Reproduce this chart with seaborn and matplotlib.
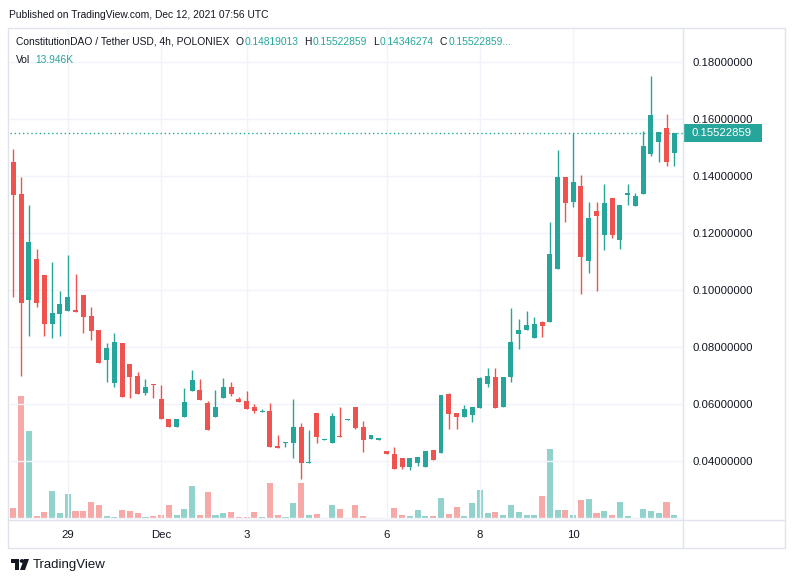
import numpy as np
import pandas as pd
import matplotlib
matplotlib.use("Agg")
import matplotlib.pyplot as plt
from matplotlib.patches import Rectangle
from matplotlib.lines import Line2D
import seaborn as sns

# %% Daten (4h Kerzen, ConstitutionDAO / USDT)
opens = [0.1449, 0.1337, 0.0965, 0.1109, 0.1053, 0.0882, 0.0917, 0.0927, 0.0930, 0.0982,
         0.0909, 0.0859, 0.0755, 0.0675, 0.0814, 0.0740, 0.0698, 0.0640, 0.0671, 0.0618,
         0.0546, 0.0518, 0.0555, 0.0647, 0.0649, 0.0604, 0.0555, 0.0622, 0.0661, 0.0618,
         0.0612, 0.0590, 0.0573, 0.0575, 0.0450, 0.0464, 0.0464, 0.0519, 0.0394, 0.0568,
         0.0474, 0.0464, 0.0488, 0.0544, 0.0588, 0.0519, 0.0476, 0.0475, 0.0435, 0.0425,
         0.0411, 0.0380, 0.0394, 0.0380, 0.0439, 0.0429, 0.0635, 0.0568, 0.0555, 0.0562,
         0.0586, 0.0671, 0.0696, 0.0591, 0.0696, 0.0846, 0.0860, 0.0833, 0.0888, 0.0889,
         0.1075, 0.1397, 0.1310, 0.1365, 0.1103, 0.1277, 0.1194, 0.1323, 0.1177, 0.1334,
         0.1296, 0.1338, 0.1477, 0.1520, 0.1568, 0.14819013]
highs = [0.1495, 0.1397, 0.1298, 0.1144, 0.1053, 0.1098, 0.0996, 0.1123, 0.1056, 0.0982,
         0.0940, 0.0859, 0.0814, 0.0849, 0.0814, 0.0740, 0.0711, 0.0688, 0.0671, 0.0667,
         0.0546, 0.0546, 0.0656, 0.0719, 0.0688, 0.0611, 0.0649, 0.0691, 0.0676, 0.0626,
         0.0646, 0.0600, 0.0582, 0.0602, 0.0491, 0.0468, 0.0618, 0.0534, 0.0509, 0.0568,
         0.0477, 0.0570, 0.0590, 0.0547, 0.0588, 0.0539, 0.0491, 0.0478, 0.0435, 0.0449,
         0.0411, 0.0411, 0.0414, 0.0435, 0.0439, 0.0632, 0.0639, 0.0568, 0.0596, 0.0590,
         0.0696, 0.0726, 0.0726, 0.0696, 0.0937, 0.0898, 0.0926, 0.0905, 0.0891, 0.1239,
         0.1491, 0.1397, 0.1550, 0.1404, 0.1309, 0.1309, 0.1372, 0.1323, 0.1298, 0.1372,
         0.1340, 0.1558, 0.1751, 0.1554, 0.1618, 0.15522859]
lows = [0.0976, 0.0699, 0.0840, 0.0941, 0.0840, 0.0833, 0.0840, 0.0927, 0.0924, 0.0850,
        0.0826, 0.0745, 0.0678, 0.0661, 0.0626, 0.0620, 0.0634, 0.0632, 0.0620, 0.0546,
        0.0518, 0.0518, 0.0555, 0.0644, 0.0615, 0.0510, 0.0555, 0.0622, 0.0628, 0.0608,
        0.0581, 0.0567, 0.0573, 0.0450, 0.0447, 0.0450, 0.0412, 0.0338, 0.0394, 0.0462,
        0.0474, 0.0464, 0.0484, 0.0544, 0.0512, 0.0433, 0.0476, 0.0475, 0.0425, 0.0372,
        0.0372, 0.0368, 0.0384, 0.0380, 0.0405, 0.0429, 0.0513, 0.0513, 0.0555, 0.0538,
        0.0586, 0.0661, 0.0587, 0.0591, 0.0678, 0.0794, 0.0860, 0.0833, 0.0836, 0.0889,
        0.1075, 0.1240, 0.1292, 0.0985, 0.1061, 0.0996, 0.1140, 0.1184, 0.1145, 0.1298,
        0.1296, 0.1338, 0.1470, 0.1450, 0.1436, 0.14346274]
closes = [0.1334, 0.0955, 0.1168, 0.0955, 0.0882, 0.0919, 0.0951, 0.0975, 0.0924, 0.0906,
          0.0857, 0.0745, 0.0795, 0.0818, 0.0626, 0.0696, 0.0634, 0.0660, 0.0667, 0.0546,
          0.0518, 0.0546, 0.0607, 0.0684, 0.0615, 0.0510, 0.0590, 0.0660, 0.0635, 0.0608,
          0.0581, 0.0577, 0.0575, 0.0450, 0.0447, 0.0468, 0.0519, 0.0394, 0.0397, 0.0485,
          0.0477, 0.0559, 0.0484, 0.0547, 0.0515, 0.0475, 0.0491, 0.0478, 0.0425, 0.0372,
          0.0380, 0.0411, 0.0414, 0.0435, 0.0405, 0.0632, 0.0566, 0.0555, 0.0582, 0.0590,
          0.0691, 0.0698, 0.0587, 0.0696, 0.0818, 0.0860, 0.0877, 0.0881, 0.0875, 0.1126,
          0.1397, 0.1306, 0.1379, 0.1115, 0.1254, 0.1261, 0.1305, 0.1193, 0.1298, 0.1340,
          0.1330, 0.1505, 0.1614, 0.1554, 0.1450, 0.15522859]
# Volumen in Tausend
volumes = [45, 519, 371, 11, 28, 117, 24, 104, 33, 33,
           71, 58, 11, 7, 37, 33, 24, 7, 11, 16,
           58, 16, 41, 138, 16, 113, 16, 24, 28, 7,
           7, 28, 7, 151, 16, 7, 66, 151, 16, 20,
           3, 58, 41, 3, 58, 11, 3, 3, 5, 44,
           14, 10, 35, 10, 10, 86, 18, 48, 10, 65,
           120, 22, 27, 14, 56, 27, 14, 14, 94, 293,
           35, 35, 14, 77, 82, 22, 31, 14, 69, 10,
           5, 39, 31, 22, 69, 13.946]

tick_pos = [7, 19, 30, 48, 60, 72]
tick_labels = ["29", "Dec", "3", "6", "8", "10"]
price_ticks = [0.04, 0.06, 0.08, 0.10, 0.12, 0.14, 0.16, 0.18]
last_price = 0.15522859

UP, DOWN = "#26a69a", "#ef5350"
UP_V, DOWN_V = "#92d2cc", "#f7a9a7"
TXT = "#131722"
GRID = "#f0f3fa"
BORDER = "#e0e3eb"
FS = 7.35

# %% Figure
sns.set_theme(style="white")
plt.rcParams["font.family"] = ["Liberation Sans", "DejaVu Sans"]

W, H = 793, 582
fig = plt.figure(figsize=(W / 100, H / 100), dpi=100, facecolor="white")

def fx(px):
    return px / W

def fy(py):
    return 1 - py / H

ax = fig.add_axes([fx(10), fy(520), fx(683) - fx(10), fy(30) - fy(520)])
ax_v = ax.twinx()
ax.set_zorder(2)
ax_v.set_zorder(1)
ax.patch.set_visible(False)
ax_v.patch.set_visible(False)

df = pd.DataFrame({"open": opens, "high": highs, "low": lows, "close": closes, "vol": volumes})
df["idx"] = np.arange(len(df))
df["dir"] = np.where(df["close"] >= df["open"], "up", "down")

# Volumen mit seaborn
sns.barplot(data=df, x="idx", y="vol", hue="dir", palette={"up": UP_V, "down": DOWN_V},
            dodge=False, width=0.78, saturation=1, legend=False, linewidth=0, ax=ax_v)
ax_v.set_ylim(-5.5, 2067)
ax_v.set_yticks([])
ax_v.set_ylabel("")
ax_v.set_xlabel("")

# Kerzen
colors = np.where(df["dir"] == "up", UP, DOWN)
ax.vlines(df["idx"], df["low"], df["high"], colors=colors, linewidth=1, zorder=3)
body_low = np.minimum(df["open"], df["close"])
body_h = np.maximum(np.abs(df["close"] - df["open"]), 0.0004)
ax.bar(df["idx"], body_h, bottom=body_low, width=0.64, color=colors, linewidth=0, zorder=4)

ax.set_xlim(-0.424, 86.12)
ax.set_ylim(0.0193, 0.19123)
ax.set_xticks(tick_pos)
ax.set_xticklabels(tick_labels)
ax.yaxis.tick_right()
ax.set_yticks(price_ticks)
ax.set_yticklabels([f"{p:.8f}" for p in price_ticks])
ax.tick_params(axis="both", length=0, labelsize=8.2, colors=TXT)
ax.tick_params(axis="y", pad=7)
ax.tick_params(axis="x", pad=7)
ax.grid(True, color=GRID, linewidth=1)
ax.axhline(0.02, color=GRID, linewidth=1)
ax.set_axisbelow(True)
for a in (ax, ax_v):
    for s in a.spines.values():
        s.set_visible(False)

# letzter Kurs
ax.axhline(last_price, color=UP, linestyle=(0, (1, 2)), linewidth=1, zorder=2)
y_last = 62 + (0.18 - last_price) * 2850
fig.add_artist(Rectangle((fx(683), fy(y_last + 9)), fx(762) - fx(683), fy(y_last - 9) - fy(y_last + 9),
                         transform=fig.transFigure, facecolor=UP, edgecolor="none"))
fig.text(fx(692), fy(y_last), f"{last_price:.8f}", fontsize=8.2, color="white", va="center")

# Rahmen
fig.add_artist(Rectangle((fx(8), fy(548)), fx(785) - fx(8), fy(28) - fy(548),
                         transform=fig.transFigure, fill=False, edgecolor=BORDER, linewidth=1))
fig.add_artist(Line2D([fx(683), fx(683)], [fy(28), fy(548)], color=BORDER, linewidth=1))
fig.add_artist(Line2D([fx(8), fx(785)], [fy(520), fy(520)], color=BORDER, linewidth=1))

# Texte
fig.text(fx(9), fy(15), "Published on TradingView.com, Dec 12, 2021 07:56 UTC",
         fontsize=FS, color=TXT, va="center")

renderer = fig.canvas.get_renderer()

def chain(x0, y0, parts):
    # Textstuecke hintereinander setzen
    xp = x0
    for s, c, gap in parts:
        t = fig.text(fx(xp), fy(y0), s, fontsize=FS, color=c, va="center")
        xp += t.get_window_extent(renderer).width + gap

chain(16, 42, [("ConstitutionDAO / Tether USD, 4h, POLONIEX", TXT, 6),
               ("O", TXT, 1), ("0.14819013", UP, 6),
               ("H", TXT, 1), ("0.15522859", UP, 6),
               ("L", TXT, 1), ("0.14346274", UP, 6),
               ("C", TXT, 1), ("0.15522859...", UP, 0)])
chain(16, 60, [("Vol", TXT, 5), ("13.946K", UP, 0)])

# Logo unten
fig.add_artist(Rectangle((fx(11), fy(563)), fx(8) - fx(0), fy(559) - fy(563),
                         transform=fig.transFigure, facecolor=TXT, edgecolor="none"))
fig.add_artist(Rectangle((fx(15), fy(570)), fx(4) - fx(0), fy(563) - fy(570),
                         transform=fig.transFigure, facecolor=TXT, edgecolor="none"))
fig.add_artist(plt.Circle((fx(22), fy(561)), 1.6 / W, transform=fig.transFigure, color=TXT))
fig.add_artist(plt.Polygon([(fx(24), fy(559)), (fx(29), fy(559)), (fx(25), fy(570)), (fx(20), fy(570))],
                           closed=True, transform=fig.transFigure, facecolor=TXT, edgecolor="none"))
fig.text(fx(33), fy(565), "TradingView", fontsize=9.5, color=TXT, va="center")

fig.savefig("out.png", dpi=100, facecolor="white")
